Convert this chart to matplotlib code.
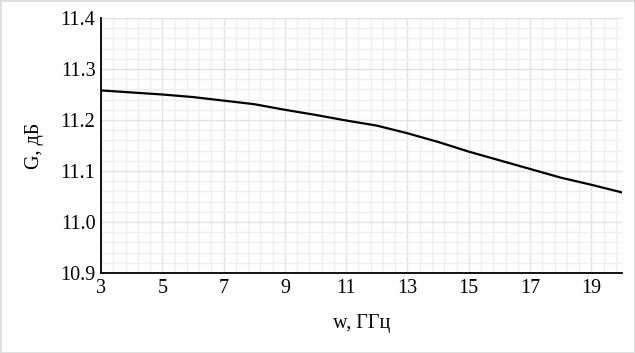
import matplotlib.pyplot as plt
from matplotlib.ticker import MultipleLocator
from matplotlib.patches import Rectangle

# частота, ГГц и коэффициент усиления, дБ
freq = [3, 4, 5, 6, 7, 8, 9, 10, 11, 12, 13, 14, 15, 16, 17, 18, 19, 20]
gain = [11.258, 11.254, 11.250, 11.245, 11.238, 11.231, 11.220, 11.210, 11.199,
        11.189, 11.174, 11.157, 11.138, 11.121, 11.104, 11.087, 11.073, 11.058]

plt.rcParams['font.family'] = ['Liberation Serif', 'DejaVu Serif']

fig = plt.figure(figsize=(6.35, 3.53), dpi=100)
ax = fig.add_axes([101 / 635, 1 - 273 / 353, 521 / 635, 255 / 353])

ax.plot(freq, gain, color='black', linewidth=1.6)

ax.set_xlim(3, 20)
ax.set_ylim(10.9, 11.4)
ax.xaxis.set_major_locator(MultipleLocator(2, offset=1))
ax.xaxis.set_minor_locator(MultipleLocator(0.4, offset=0.2))
ax.yaxis.set_major_locator(MultipleLocator(0.1))
ax.yaxis.set_minor_locator(MultipleLocator(0.02))
ax.yaxis.set_major_formatter(lambda v, p: '{:.1f}'.format(v))

ax.grid(which='major', color='#e2e2e2', linewidth=1.0)
ax.grid(which='minor', color='#efefef', linewidth=1.0)
ax.set_axisbelow(True)

ax.tick_params(which='both', length=0, labelsize=14.5, colors='black')
ax.tick_params(axis='x', pad=4)
ax.tick_params(axis='y', pad=4)

ax.spines['top'].set_visible(False)
ax.spines['right'].set_visible(False)
ax.spines['left'].set_linewidth(1.3)
ax.spines['bottom'].set_linewidth(1.3)

ax.set_xlabel('w, ГГц', fontsize=14.5, labelpad=12)
ax.set_ylabel('G, дБ', fontsize=14.5, labelpad=12)

fig.patches.append(Rectangle((0, 0), 1, 1, transform=fig.transFigure,
                             fill=False, edgecolor='#dddddd', linewidth=2))

fig.savefig('out.png', dpi=100)
